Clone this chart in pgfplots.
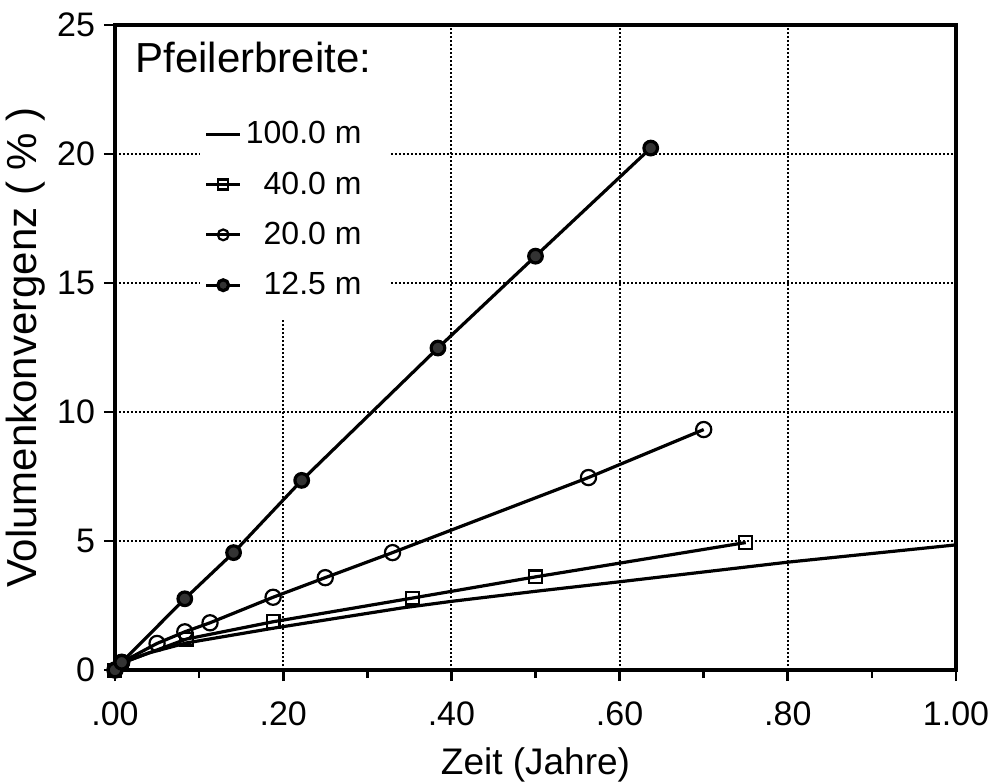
\documentclass[border=0pt]{standalone}
\usepackage{pgfplots}
\pgfplotsset{compat=1.18}
\usepackage{fontspec}
\setmainfont{Liberation Sans}

% convergence curves for four pillar widths
\pgfplotstableread{
t     v
0.000 0.00
0.008 0.27
0.040 0.66
0.085 1.05
0.190 1.63
0.340 2.40
0.400 2.66
0.500 3.05
0.600 3.42
0.800 4.18
1.000 4.85
}\widthA
\pgfplotstableread{
t     v
0.000 0.00
0.008 0.27
0.085 1.20
0.188 1.87
0.354 2.79
0.500 3.61
0.750 4.94
}\widthB
\pgfplotstableread{
t     v
0.000 0.00
0.008 0.30
0.050 1.03
0.083 1.48
0.113 1.83
0.188 2.82
0.250 3.58
0.330 4.55
0.563 7.46
0.700 9.32
}\widthC
\pgfplotstableread{
t     v
0.000 0.00
0.008 0.30
0.083 2.76
0.141 4.55
0.222 7.35
0.384 12.48
0.500 16.04
0.637 20.23
}\widthD

\begin{document}
\begin{tikzpicture}
\begin{axis}[
  scale only axis,
  width=420.5pt, height=322.5pt,
  xmin=0, xmax=1, ymin=0, ymax=25,
  axis line style={line width=1.8pt},
  xtick={0,0.2,0.4,0.6,0.8,1},
  xticklabels={.00,.20,.40,.60,.80,1.00},
  minor xtick={0.1,0.3,0.5,0.7,0.9},
  ytick={0,5,10,15,20,25},
  xtick pos=bottom, ytick pos=left,
  tick align=outside,
  major tick length=5.5pt, minor tick length=4pt,
  every tick/.style={black, line width=1.4pt},
  grid=major,
  major grid style={black, line width=1pt, dash pattern=on 0.8pt off 1.2pt},
  tick label style={font=\fontsize{17}{20}\selectfont},
  /pgf/number format/assume math mode=true,
  xticklabel style={yshift=-7pt},
  yticklabel style={xshift=-1pt},
  xlabel={Zeit (Jahre)},
  ylabel={Volumenkonvergenz ( \% )},
  xlabel style={font=\fontsize{18.5}{21}\selectfont, yshift=-4pt},
  ylabel style={font=\fontsize{21}{24}\selectfont, yshift=-1pt},
  legend style={at={(axis cs:0.106,21.43)}, anchor=north west,
    draw=none, fill=none, inner sep=0pt,
    font=\fontsize{16}{19}\selectfont, row sep=8.5pt,
    nodes={inner sep=2pt}},
  legend cell align=right,
  every axis plot/.append style={line width=1.6pt, black},
]
% clear area behind the key
\fill[white] (axis cs:0.012,24.88) rectangle (axis cs:0.326,22.7);
\fill[white] (axis cs:0.101,24.88) rectangle (axis cs:0.326,13.55);
\node[anchor=west, font=\fontsize{21}{24}\selectfont, inner sep=0pt]
  at (axis cs:0.024,23.75) {Pfeilerbreite:};

\addplot[no markers] table[x=t,y=v] {\widthA};
\addlegendentry{100.0 m}
\addplot[mark=square, mark size=3.2pt, mark options={line width=1.1pt, fill=white},
  legend image post style={mark size=2.5pt}] table[x=t,y=v] {\widthB};
\addlegendentry{40.0 m}
\addplot[mark=o, mark size=3.8pt, mark options={line width=1.1pt, fill=white},
  legend image post style={mark size=2.7pt}] table[x=t,y=v] {\widthC};
\addlegendentry{20.0 m}
\addplot[mark=*, mark size=3.4pt, mark options={fill=black!80, draw=black},
  legend image post style={mark size=2.7pt}] table[x=t,y=v] {\widthD};
\addlegendentry{12.5 m}

\coordinate (sw) at (rel axis cs:0,0);
\coordinate (ne) at (rel axis cs:1,1);
\end{axis}
\pgfresetboundingbox
\path[use as bounding box] ([xshift=-57.5pt,yshift=-56.5pt]sw) rectangle ([xshift=20pt,yshift=12.5pt]ne);
\end{tikzpicture}
\end{document}
